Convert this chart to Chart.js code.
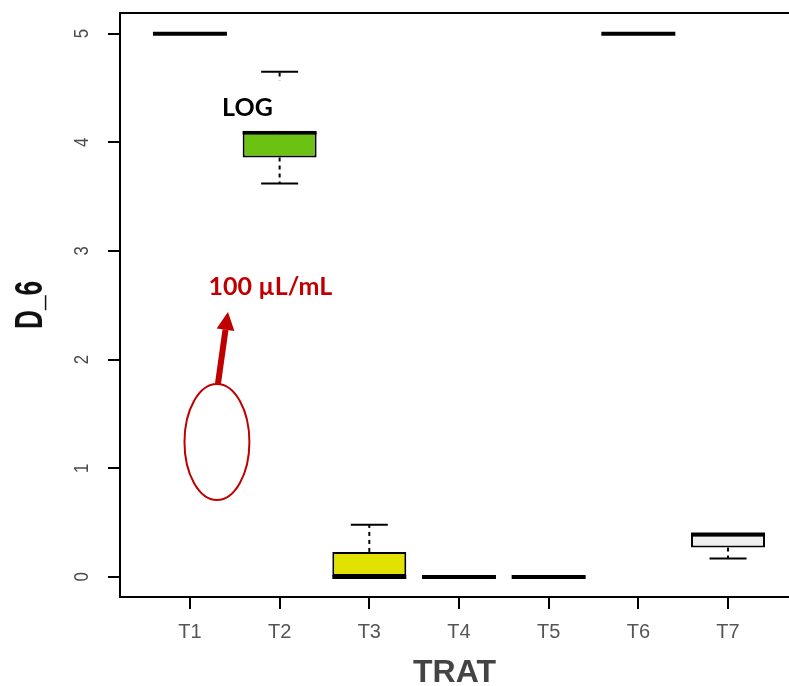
<!DOCTYPE html>
<html>
<head>
<meta charset="utf-8">
<script src="https://cdn.jsdelivr.net/npm/chart.js@4.4.1/dist/chart.umd.min.js"></script>
<style>
  html, body { margin: 0; padding: 0; background: #fff; }
  #wrap { width: 789px; height: 686px; }
</style>
</head>
<body>
<div id="wrap"><canvas id="chart"></canvas></div>
<script>
// Box plot values (D_6 by treatment)
const treatments = ["T1", "T2", "T3", "T4", "T5", "T6", "T7"];
const whiskerLow = [5, 3.62, 0, 0, 0, 5, 0.17];
const quart1 = [5, 3.86, 0, 0, 0, 5, 0.27];
const medians = [5, 4.09, 0, 0, 0, 5, 0.39];
const quart3 = [5, 4.09, 0.23, 0, 0, 5, 0.39];
const whiskerHigh = [5, 4.65, 0.48, 0, 0, 5, 0.39];
const yTicks = [0, 1, 2, 3, 4, 5];
const boxColors = ["#ffffff", "#6bc212", "#e2e200", "#ffffff", "#ffffff", "#ffffff", "#efefef"];

const RED = "#c00000";
Chart.defaults.font.family = "'Liberation Sans', Arial, sans-serif";

// whiskers, medians, rotated y labels and the hand-drawn notes
const boxplotExtras = {
  id: "boxplotExtras",
  afterDatasetsDraw(chart) {
    const ctx = chart.ctx;
    const xs = chart.scales.x, ys = chart.scales.y;
    const area = chart.chartArea;
    const bars = chart.getDatasetMeta(0).data;
    ctx.save();
    ctx.strokeStyle = "#000";
    ctx.lineCap = "butt";

    bars.forEach((bar, i) => {
      const cx = bar.x, half = bar.width / 2;
      [[quart3[i], whiskerHigh[i]], [quart1[i], whiskerLow[i]]].forEach(([from, to]) => {
        if (from === to) return;
        const y0 = ys.getPixelForValue(from), y1 = ys.getPixelForValue(to);
        ctx.lineWidth = 2;
        ctx.setLineDash([4, 4]);
        ctx.beginPath(); ctx.moveTo(cx, y0); ctx.lineTo(cx, y1); ctx.stroke();
        ctx.setLineDash([]);
        ctx.beginPath(); ctx.moveTo(cx - half / 2, y1); ctx.lineTo(cx + half / 2, y1); ctx.stroke();
      });
      const ym = ys.getPixelForValue(medians[i]);
      ctx.lineWidth = 4;
      ctx.beginPath(); ctx.moveTo(cx - half, ym); ctx.lineTo(cx + half, ym); ctx.stroke();
    });

    // top frame line (right side is cut off in the original)
    ctx.lineWidth = 2;
    ctx.beginPath(); ctx.moveTo(area.left, area.top); ctx.lineTo(area.right, area.top); ctx.stroke();

    // rotated y tick labels
    ctx.fillStyle = "#4a4a4a";
    ctx.font = "21px 'Liberation Sans', Arial, sans-serif";
    ctx.textAlign = "center";
    ctx.textBaseline = "alphabetic";
    yTicks.forEach(v => {
      ctx.save();
      ctx.translate(area.left - 32, ys.getPixelForValue(v));
      ctx.rotate(-Math.PI / 2);
      ctx.scale(0.8, 1);
      ctx.fillText(String(v), 0, 0);
      ctx.restore();
    });

    // y title
    ctx.save();
    ctx.translate(42, (area.top + area.bottom) / 2);
    ctx.rotate(-Math.PI / 2);
    ctx.scale(0.69, 1);
    ctx.fillStyle = "#111";
    ctx.font = "bold 38px 'Liberation Sans', Arial, sans-serif";
    ctx.fillText("D_6", 0, 0);
    ctx.restore();

    // "LOG" label on a white text box
    const px = v => xs.getPixelForValue(v), py = v => ys.getPixelForValue(v);
    ctx.fillStyle = "#fff";
    ctx.fillRect(px(0.28), py(4.57), px(1.55) - px(0.28), py(4.105) - py(4.57));
    ctx.fillStyle = "#000";
    ctx.font = "bold 25px Lato, 'Open Sans', sans-serif";
    ctx.fillText("LOG", px(0.641), py(4.242));

    ctx.fillStyle = RED;
    ctx.fillText("100 µL/mL", px(0.897), py(2.595));

    // ellipse
    ctx.strokeStyle = RED;
    ctx.lineWidth = 2;
    const ex = px(0.301), ey = py(1.242);
    ctx.beginPath();
    ctx.ellipse(ex, ey, px(0.301 + 0.362) - ex, py(1.242 - 0.534) - ey, 0, 0, Math.PI * 2);
    ctx.stroke();

    // arrow
    const ax0 = px(0.312), ay0 = py(1.776), ax1 = px(0.424), ay1 = py(2.439);
    const ang = Math.atan2(ay1 - ay0, ax1 - ax0);
    const headLen = 18, headW = 9;
    const bx = ax1 - headLen * Math.cos(ang), by = ay1 - headLen * Math.sin(ang);
    ctx.lineWidth = 6;
    ctx.beginPath(); ctx.moveTo(ax0, ay0); ctx.lineTo(bx, by); ctx.stroke();
    ctx.fillStyle = RED;
    ctx.beginPath();
    ctx.moveTo(ax1, ay1);
    ctx.lineTo(bx + headW * Math.sin(ang), by - headW * Math.cos(ang));
    ctx.lineTo(bx - headW * Math.sin(ang), by + headW * Math.cos(ang));
    ctx.closePath();
    ctx.fill();

    ctx.restore();
  }
};

new Chart(document.getElementById("chart"), {
  type: "bar",
  data: {
    datasets: [{
      data: treatments.map((_, i) => ({ x: i, y: [quart1[i], quart3[i]] })),
      backgroundColor: boxColors,
      borderColor: "#000",
      borderWidth: treatments.map((_, i) => (quart1[i] === quart3[i] ? 0 : 2)),
      borderSkipped: false,
      barPercentage: 0.825,
      categoryPercentage: 1
    }]
  },
  options: {
    responsive: true,
    maintainAspectRatio: false,
    animation: false,
    layout: { padding: { top: 13, right: 0, left: 0, bottom: 0 } },
    plugins: { legend: { display: false }, tooltip: { enabled: false } },
    scales: {
      x: {
        type: "linear",
        min: -0.78,
        max: 6.68,
        offset: false,
        afterFit: s => { s.height = 89; },
        afterBuildTicks: s => { s.ticks = treatments.map((_, i) => ({ value: i })); },
        grid: { offset: false, drawOnChartArea: false, drawTicks: true, tickLength: 12, color: "#000", lineWidth: 2 },
        border: { display: true, color: "#000", width: 2 },
        ticks: {
          callback: v => treatments[v],
          color: "#555",
          font: { size: 20 },
          padding: 11,
          maxRotation: 0
        },
        title: {
          display: true,
          text: "TRAT",
          color: "#444",
          font: { size: 32, weight: "bold", lineHeight: 0.8 },
          padding: 0
        }
      },
      y: {
        min: -0.185,
        max: 5.19,
        afterFit: s => { s.width = 120; },
        afterBuildTicks: s => { s.ticks = yTicks.map(v => ({ value: v })); },
        grid: { drawOnChartArea: false, drawTicks: true, tickLength: 12, color: "#000", lineWidth: 2 },
        border: { display: true, color: "#000", width: 2 },
        ticks: { display: false }
      }
    }
  },
  plugins: [boxplotExtras]
});
</script>
</body>
</html>
